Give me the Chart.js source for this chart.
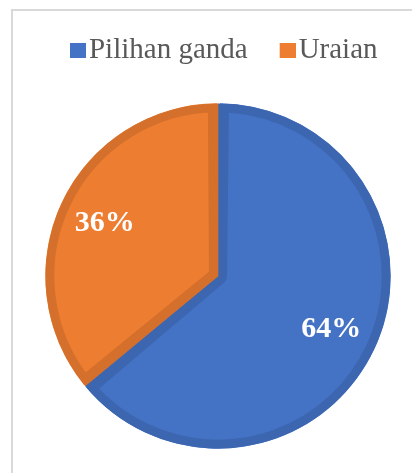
<!DOCTYPE html>
<html>
<head>
<meta charset="utf-8">
<title>Pilihan ganda dan Uraian</title>
<script src="https://cdn.jsdelivr.net/npm/chart.js@4.4.1/dist/chart.umd.min.js"></script>
<style>
  html, body { margin: 0; padding: 0; background: #fff; overflow: hidden; }
  #wrap { position: relative; width: 412px; height: 473px; overflow: hidden; }
  #frame { position: absolute; left: 11px; top: 9px; width: 600px; height: 600px;
           border-left: 2px solid #d9d9d9; border-top: 2px solid #d9d9d9; }
  #pieChart { position: absolute; left: 0; top: 0; }
</style>
</head>
<body>
<div id="wrap">
  <div id="frame"></div>
  <canvas id="pieChart" width="412" height="473"></canvas>
</div>
<script>
const questionTypes = ['Pilihan ganda', 'Uraian'];
const sharePercent = [64, 36];
const sliceColors = ['#4472C4', '#ED7D31'];
const sliceEdges = ['#3D66B0', '#D4702C'];

const serif = "'Liberation Serif', 'Times New Roman', serif";

// legend key: a square pushed to the right of a transparent strip,
// so it sits close to its label text
function legendKey(color) {
    const key = document.createElement('canvas');
    key.width = 39;
    key.height = 15;
    const g = key.getContext('2d');
    g.fillStyle = color;
    g.fillRect(23, 0, 16, 15);
    return key;
}

// percentage written inside each slice, along its middle angle
const sliceLabels = {
    id: 'sliceLabels',
    afterDatasetsDraw(chart) {
        const ctx = chart.ctx;
        const meta = chart.getDatasetMeta(0);
        ctx.save();
        ctx.fillStyle = '#ffffff';
        ctx.font = 'bold 30px ' + serif;
        ctx.textAlign = 'center';
        ctx.textBaseline = 'middle';
        meta.data.forEach((arc, i) => {
            const p = arc.getProps(['x', 'y', 'startAngle', 'endAngle', 'outerRadius'], true);
            const mid = (p.startAngle + p.endAngle) / 2;
            const r = p.outerRadius * 0.725;
            ctx.fillText(sharePercent[i] + '%', p.x + Math.cos(mid) * r, p.y + Math.sin(mid) * r);
        });
        ctx.restore();
    }
};

// extra room between the legend and the pie
const legendGap = {
    id: 'legendGap',
    beforeInit(chart) {
        const fit = chart.legend.fit;
        chart.legend.fit = function () {
            fit.call(this);
            this.height += 28.5;
        };
    }
};

const pieChart = new Chart(document.getElementById('pieChart').getContext('2d'), {
    type: 'pie',
    data: {
        labels: questionTypes,
        datasets: [{
            data: sharePercent,
            backgroundColor: sliceColors,
            borderColor: sliceEdges,
            borderWidth: 9,
            borderAlign: 'inner',
            spacing: 1,
            hoverOffset: 0
        }]
    },
    options: {
        responsive: false,
        animation: false,
        events: [],
        layout: {
            padding: { top: 15, left: 24, right: 0, bottom: 24 }
        },
        plugins: {
            legend: {
                position: 'top',
                labels: {
                    usePointStyle: true,
                    pointStyleWidth: 16,
                    boxHeight: 15,
                    padding: 20.5,
                    color: '#595959',
                    font: { family: serif, size: 29 },
                    generateLabels(chart) {
                        return Chart.overrides.pie.plugins.legend.labels.generateLabels(chart).map((item, i) => {
                            item.pointStyle = legendKey(sliceColors[i]);
                            item.lineWidth = 0;
                            return item;
                        });
                    }
                }
            },
            tooltip: { enabled: false }
        }
    },
    plugins: [legendGap, sliceLabels]
});
</script>
</body>
</html>
